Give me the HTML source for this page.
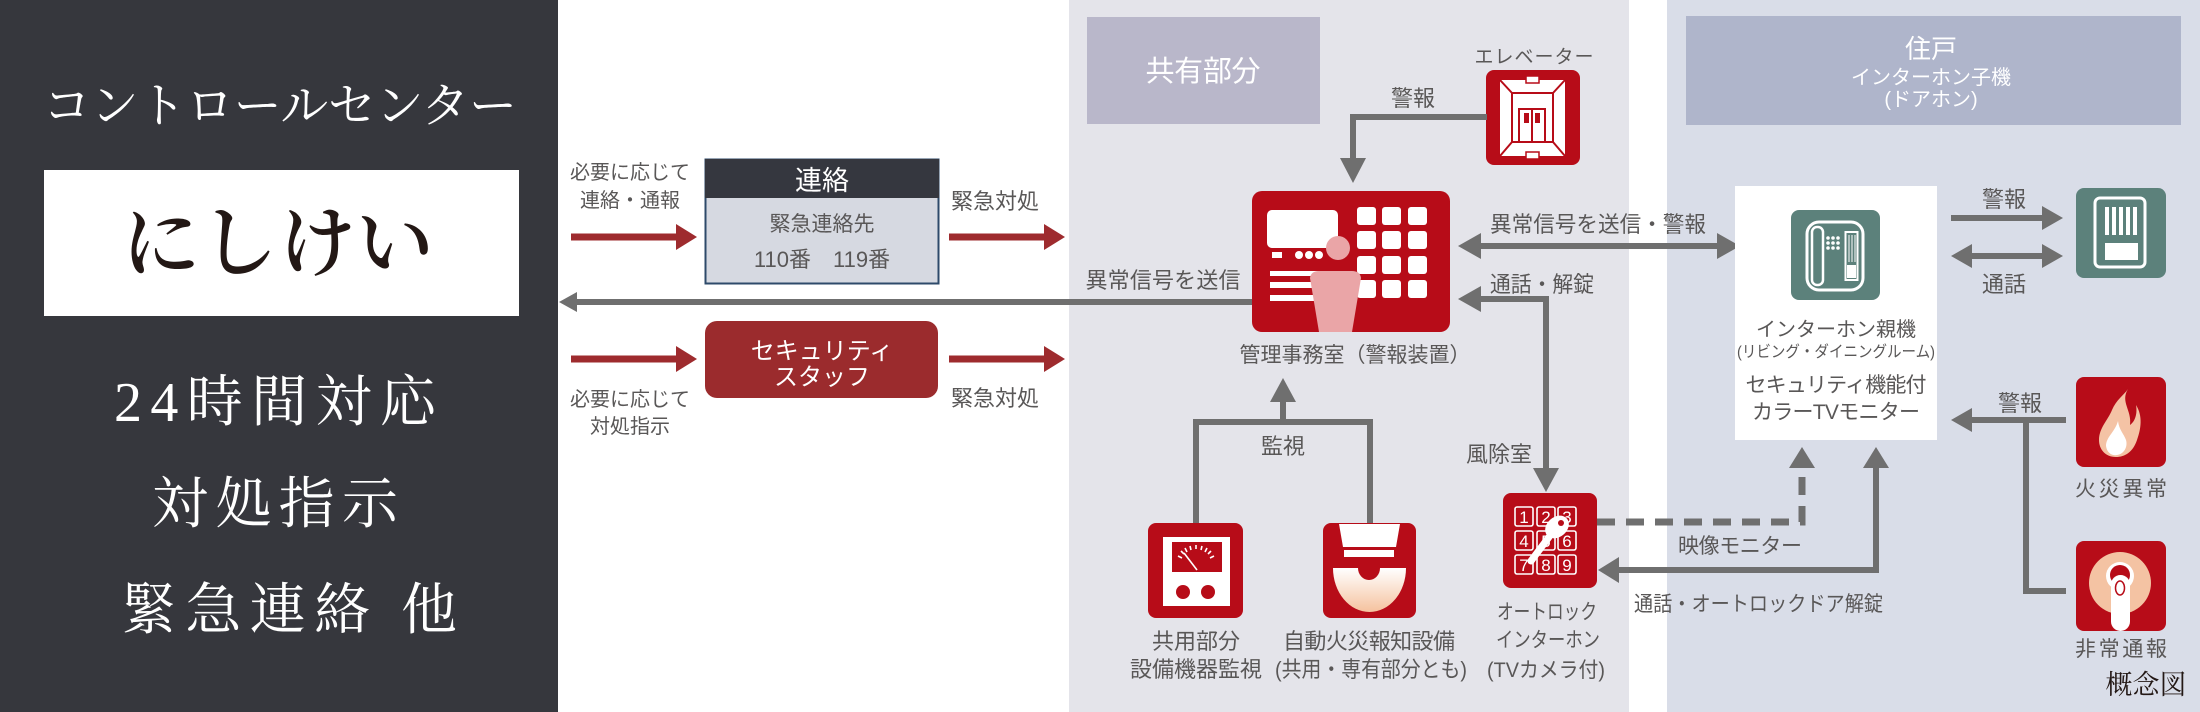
<!DOCTYPE html>
<html><head><meta charset="utf-8">
<style>
html,body{margin:0;padding:0;background:#fff;}
svg{display:block}
.s{font-family:"Liberation Sans","Noto Sans CJK JP",sans-serif;fill:#595757;}
.m{font-family:"Liberation Serif","Noto Serif CJK SC",serif;}
.w{fill:#fff;}
</style></head><body>
<svg width="2200" height="712" viewBox="0 0 2200 712" xmlns="http://www.w3.org/2000/svg">
<defs>
<linearGradient id="bowl" x1="0" y1="0" x2="0" y2="1">
<stop offset="0" stop-color="#ffffff"/><stop offset="1" stop-color="#f5c29e"/>
</linearGradient>
</defs>

<!-- Left dark panel -->
<rect x="0" y="0" width="558" height="712" fill="#36373d"/>
<text class="m w" x="280" y="122" font-size="48" text-anchor="middle" textLength="474" lengthAdjust="spacing">コントロールセンター</text>
<rect x="44" y="170" width="475" height="146" fill="#fff"/>
<text class="m" x="278" y="270" font-size="78" fill="#231815" text-anchor="middle" textLength="312" lengthAdjust="spacing" font-weight="600">にしけい</text>
<text class="m w" x="275" y="421" font-size="56" text-anchor="middle" textLength="322" lengthAdjust="spacing">24時間対応</text>
<text class="m w" x="275" y="523" font-size="56" text-anchor="middle" textLength="246" lengthAdjust="spacing">対処指示</text>
<text class="m w" x="289" y="629" font-size="56" text-anchor="middle" textLength="336" lengthAdjust="spacing">緊急連絡 他</text>

<!-- Middle gray panel -->
<rect x="1069" y="0" width="560" height="712" fill="#e4e4ea"/>
<!-- Right panel -->
<rect x="1667" y="0" width="533" height="712" fill="#d9dde8"/>

<!-- Left white zone labels -->
<text class="s" x="630" y="179" font-size="20" text-anchor="middle">必要に応じて</text>
<text class="s" x="630" y="207" font-size="20" text-anchor="middle" textLength="100" lengthAdjust="spacingAndGlyphs">連絡・通報</text>
<line x1="571" y1="237" x2="678" y2="237" stroke="#9e2b2e" stroke-width="7"/>
<polygon points="676,224 697,237 676,250" fill="#9e2b2e"/>

<rect x="705.5" y="159.5" width="233" height="124" fill="#d6d9e1" stroke="#2e4a6a" stroke-width="2"/>
<rect x="705" y="159" width="234" height="39" fill="#35373f"/>
<text class="s" x="822" y="190" font-size="27" text-anchor="middle" style="fill:#fff">連絡</text>
<text class="s" x="822" y="231" font-size="21" text-anchor="middle">緊急連絡先</text>
<text class="s" x="822" y="267" font-size="22" text-anchor="middle">110番　119番</text>

<text class="s" x="995" y="209" font-size="22" text-anchor="middle">緊急対処</text>
<line x1="949" y1="237" x2="1046" y2="237" stroke="#9e2b2e" stroke-width="7"/>
<polygon points="1044,224 1065,237 1044,250" fill="#9e2b2e"/>

<!-- gray arrow to control center -->
<line x1="574" y1="302" x2="1254" y2="302" stroke="#6f6f6f" stroke-width="6"/>
<polygon points="559,302 577,292 577,312" fill="#6f6f6f"/>

<rect x="705" y="321" width="233" height="77" rx="12" fill="#9b2b2d"/>
<text class="s" x="822" y="359" font-size="24" text-anchor="middle" style="fill:#fff">セキュリティ</text>
<text class="s" x="822" y="385" font-size="24" text-anchor="middle" style="fill:#fff">スタッフ</text>
<line x1="571" y1="359" x2="678" y2="359" stroke="#9e2b2e" stroke-width="7"/>
<polygon points="676,346 697,359 676,372" fill="#9e2b2e"/>
<line x1="949" y1="359" x2="1046" y2="359" stroke="#9e2b2e" stroke-width="7"/>
<polygon points="1044,346 1065,359 1044,372" fill="#9e2b2e"/>
<text class="s" x="630" y="406" font-size="20" text-anchor="middle">必要に応じて</text>
<text class="s" x="630" y="433" font-size="20" text-anchor="middle">対処指示</text>
<text class="s" x="995" y="406" font-size="22" text-anchor="middle">緊急対処</text>

<!-- 共有部分 -->
<rect x="1087" y="17" width="233" height="107" fill="#b9b7ca"/>
<text class="s" x="1203" y="81" font-size="29" text-anchor="middle" textLength="115" lengthAdjust="spacing" style="fill:#fff">共有部分</text>

<text class="s" x="1534" y="63" font-size="19" text-anchor="middle" textLength="119" lengthAdjust="spacing">エレベーター</text>
<!-- Elevator icon -->
<rect x="1486" y="70" width="94" height="95" rx="8" fill="#b70c18"/>
<rect x="1500" y="80" width="65" height="76" fill="#fff"/>
<g stroke="#b70c18" stroke-width="2" fill="none">
<line x1="1500" y1="80" x2="1512" y2="93"/>
<line x1="1565" y1="80" x2="1553" y2="93"/>
<line x1="1500" y1="156" x2="1512" y2="142"/>
<line x1="1565" y1="156" x2="1553" y2="142"/>
<rect x="1512" y="93" width="41" height="49"/>
<rect x="1519" y="109" width="26" height="33"/>
<line x1="1532" y1="109" x2="1532" y2="142"/>
</g>
<rect x="1524" y="113" width="5" height="10" fill="#b70c18"/>
<rect x="1535" y="113" width="5" height="10" fill="#b70c18"/>
<rect x="1526" y="76" width="13" height="7" fill="#fff" stroke="#b70c18" stroke-width="1.5"/>
<rect x="1526" y="152" width="13" height="7" fill="#fff" stroke="#b70c18" stroke-width="1.5"/>

<text class="s" x="1413" y="106" font-size="22" text-anchor="middle">警報</text>
<polyline points="1487,117 1353,117 1353,162" fill="none" stroke="#6f6f6f" stroke-width="6"/>
<polygon points="1340,158 1366,158 1353,183" fill="#6f6f6f"/>

<!-- Office icon -->
<rect x="1252" y="191" width="198" height="141" rx="10" fill="#b70c18"/>
<rect x="1267" y="210" width="71" height="38" rx="5" fill="#fff"/>
<rect x="1272" y="252" width="10" height="6" fill="#fff"/>
<circle cx="1299" cy="255" r="4" fill="#fff"/>
<circle cx="1309" cy="255" r="4" fill="#fff"/>
<circle cx="1319" cy="255" r="4" fill="#fff"/>
<rect x="1270" y="271" width="52" height="5" fill="#fff"/>
<rect x="1270" y="282" width="52" height="6" fill="#fff"/>
<rect x="1270" y="295" width="52" height="6" fill="#fff"/>
<g fill="#fff">
<rect x="1357" y="207" width="19" height="18" rx="3"/><rect x="1382" y="207" width="19" height="18" rx="3"/><rect x="1408" y="207" width="19" height="18" rx="3"/>
<rect x="1357" y="231" width="19" height="18" rx="3"/><rect x="1382" y="231" width="19" height="18" rx="3"/><rect x="1408" y="231" width="19" height="18" rx="3"/>
<rect x="1357" y="256" width="19" height="18" rx="3"/><rect x="1382" y="256" width="19" height="18" rx="3"/><rect x="1408" y="256" width="19" height="18" rx="3"/>
<rect x="1357" y="280" width="19" height="18" rx="3"/><rect x="1382" y="280" width="19" height="18" rx="3"/><rect x="1408" y="280" width="19" height="18" rx="3"/>
</g>
<circle cx="1338" cy="248" r="12" fill="#eaa5a7"/>
<path d="M1310,278 Q1311,271 1319,271 L1352,271 Q1360,271 1361,278 L1352,332 L1319,332 Z" fill="#eaa5a7"/>
<text class="s" x="1355" y="362" font-size="21" text-anchor="middle" textLength="231" lengthAdjust="spacing">管理事務室（警報装置）</text>

<!-- arrows right of office -->
<text class="s" x="1490" y="232" font-size="22" textLength="216" lengthAdjust="spacingAndGlyphs">異常信号を送信・警報</text>
<line x1="1478" y1="246" x2="1720" y2="246" stroke="#6f6f6f" stroke-width="6"/>
<polygon points="1458,246 1481,233 1481,259" fill="#6f6f6f"/>
<polygon points="1740,246 1717,233 1717,259" fill="#6f6f6f"/>
<text class="s" x="1490" y="292" font-size="22" textLength="104" lengthAdjust="spacingAndGlyphs">通話・解錠</text>
<polyline points="1546,470 1546,299 1478,299" fill="none" stroke="#6f6f6f" stroke-width="6"/>
<polygon points="1458,299 1481,286 1481,312" fill="#6f6f6f"/>
<polygon points="1533,468 1559,468 1546,492" fill="#6f6f6f"/>
<text class="s" x="1163" y="288" font-size="22" text-anchor="middle" textLength="155" lengthAdjust="spacing">異常信号を送信</text>

<!-- monitoring -->
<polyline points="1196,523 1196,422 1370,422 1370,523" fill="none" stroke="#6f6f6f" stroke-width="6"/>
<line x1="1283" y1="422" x2="1283" y2="400" stroke="#6f6f6f" stroke-width="6"/>
<polygon points="1270,402 1296,402 1283,378" fill="#6f6f6f"/>
<text class="s" x="1283" y="454" font-size="22" text-anchor="middle">監視</text>
<text class="s" x="1499" y="462" font-size="22" text-anchor="middle">風除室</text>

<!-- meter icon -->
<rect x="1148" y="523" width="95" height="95" rx="8" fill="#b70c18"/>
<rect x="1163" y="537" width="67" height="69" fill="#fff"/>
<rect x="1172" y="542" width="50" height="30" fill="#b70c18"/>
<g stroke="#fff" stroke-width="1.6">
<line x1="1178" y1="556" x2="1182" y2="558"/>
<line x1="1181" y1="551" x2="1184" y2="554"/>
<line x1="1185" y1="548" x2="1187" y2="552"/>
<line x1="1190" y1="546" x2="1191" y2="550"/>
<line x1="1196" y1="545" x2="1196" y2="549"/>
<line x1="1202" y1="546" x2="1201" y2="550"/>
<line x1="1207" y1="548" x2="1205" y2="552"/>
<line x1="1211" y1="551" x2="1208" y2="554"/>
<line x1="1214" y1="556" x2="1210" y2="558"/>
<line x1="1197" y1="570" x2="1184" y2="553"/>
</g>
<circle cx="1183" cy="592" r="7" fill="#b70c18"/>
<circle cx="1208" cy="592" r="7" fill="#b70c18"/>
<text class="s" x="1196" y="649" font-size="22" text-anchor="middle">共用部分</text>
<text class="s" x="1196" y="677" font-size="22" text-anchor="middle" textLength="132" lengthAdjust="spacingAndGlyphs">設備機器監視</text>

<!-- fire detector icon -->
<rect x="1323" y="523" width="93" height="95" rx="8" fill="#b70c18"/>
<path d="M1339,524 L1400,524 L1396,547 L1343,547 Z" fill="#fff"/>
<rect x="1344" y="550" width="50" height="7" fill="#fff"/>
<path d="M1333,568 L1406,568 A36.5,44 0 0 1 1333,568 Z" fill="url(#bowl)"/>
<path d="M1358,568 A11,12 0 0 0 1380,568 Z" fill="#b70c18"/>
<text class="s" x="1369" y="649" font-size="22" text-anchor="middle" textLength="172" lengthAdjust="spacing">自動火災報知設備</text>
<text class="s" x="1371" y="677" font-size="22" text-anchor="middle" textLength="192" lengthAdjust="spacingAndGlyphs">(共用・専有部分とも)</text>

<!-- autolock icon -->
<rect x="1503" y="493" width="94" height="95" rx="8" fill="#b70c18"/>
<g fill="none" stroke="#fff" stroke-width="1.6">
<rect x="1515" y="507" width="18" height="19" rx="2"/><rect x="1537" y="507" width="18" height="19" rx="2"/><rect x="1558" y="507" width="18" height="19" rx="2"/>
<rect x="1515" y="531" width="18" height="19" rx="2"/><rect x="1537" y="531" width="18" height="19" rx="2"/><rect x="1558" y="531" width="18" height="19" rx="2"/>
<rect x="1515" y="555" width="18" height="19" rx="2"/><rect x="1537" y="555" width="18" height="19" rx="2"/><rect x="1558" y="555" width="18" height="19" rx="2"/>
</g>
<g font-family="Liberation Sans, sans-serif" font-size="17" fill="#fff" text-anchor="middle">
<text x="1524" y="523">1</text><text x="1546" y="523">2</text><text x="1567" y="523">3</text>
<text x="1524" y="547">4</text><text x="1546" y="547">5</text><text x="1567" y="547">6</text>
<text x="1524" y="571">7</text><text x="1546" y="571">8</text><text x="1567" y="571">9</text>
</g>
<ellipse cx="1557" cy="527" rx="13" ry="10" transform="rotate(-40 1557 527)" fill="#fff"/>
<circle cx="1561" cy="523" r="3" fill="#b70c18"/>
<line x1="1549" y1="537" x2="1531" y2="561" stroke="#fff" stroke-width="7" stroke-linecap="round"/>
<text class="s" x="1547" y="619" font-size="21" text-anchor="middle" textLength="100" lengthAdjust="spacingAndGlyphs">オートロック</text>
<text class="s" x="1548" y="647" font-size="21" text-anchor="middle" textLength="104" lengthAdjust="spacingAndGlyphs">インターホン</text>
<text class="s" x="1546" y="677" font-size="21" text-anchor="middle" textLength="118" lengthAdjust="spacingAndGlyphs">(TVカメラ付)</text>

<!-- autolock to monitor arrows -->
<polyline points="1597,522 1802,522 1802,470" fill="none" stroke="#6f6f6f" stroke-width="7" stroke-dasharray="18 11"/>
<polygon points="1789,468 1815,468 1802,447" fill="#6f6f6f"/>
<polyline points="1616,570 1876,570 1876,466" fill="none" stroke="#6f6f6f" stroke-width="6"/>
<polygon points="1598,570 1619,557 1619,583" fill="#6f6f6f"/>
<polygon points="1863,468 1889,468 1876,447" fill="#6f6f6f"/>
<text class="s" x="1740" y="553" font-size="21" text-anchor="middle" textLength="124" lengthAdjust="spacing">映像モニター</text>
<text class="s" x="1634" y="611" font-size="21" textLength="249" lengthAdjust="spacingAndGlyphs">通話・オートロックドア解錠</text>

<!-- 住戸 header -->
<rect x="1686" y="16" width="495" height="109" fill="#afb5cb"/>
<text class="s" x="1931" y="58" font-size="26" text-anchor="middle" style="fill:#fff">住戸</text>
<text class="s" x="1931" y="84" font-size="20" text-anchor="middle" textLength="160" lengthAdjust="spacing" style="fill:#fff">インターホン子機</text>
<text class="s" x="1931" y="106" font-size="20" text-anchor="middle" style="fill:#fff">(ドアホン)</text>

<!-- monitor white box -->
<rect x="1735" y="186" width="202" height="254" fill="#fff"/>
<rect x="1791" y="210" width="89" height="90" rx="8" fill="#5c817b"/>
<rect x="1807" y="222" width="56" height="68" rx="12" fill="none" stroke="#fff" stroke-width="3"/>
<rect x="1812" y="227" width="11" height="58" rx="5" fill="none" stroke="#fff" stroke-width="2.5"/>
<g fill="#fff">
<circle cx="1828" cy="238" r="1.8"/><circle cx="1833" cy="238" r="1.8"/><circle cx="1838" cy="238" r="1.8"/>
<circle cx="1828" cy="243" r="1.8"/><circle cx="1833" cy="243" r="1.8"/><circle cx="1838" cy="243" r="1.8"/>
<circle cx="1828" cy="248" r="1.8"/><circle cx="1833" cy="248" r="1.8"/><circle cx="1838" cy="248" r="1.8"/>
<rect x="1847" y="265" width="9" height="13"/>
</g>
<rect x="1845.5" y="232" width="12" height="48" fill="none" stroke="#fff" stroke-width="2"/>
<g stroke="#fff" stroke-width="1"><line x1="1849" y1="235" x2="1849" y2="262"/><line x1="1852" y1="235" x2="1852" y2="262"/><line x1="1855" y1="235" x2="1855" y2="262"/></g>
<text class="s" x="1836" y="336" font-size="20" text-anchor="middle" textLength="160" lengthAdjust="spacing">インターホン親機</text>
<text class="s" x="1836" y="357" font-size="16" text-anchor="middle" textLength="198" lengthAdjust="spacingAndGlyphs">(リビング・ダイニングルーム)</text>
<text class="s" x="1836" y="392" font-size="21" text-anchor="middle" textLength="181" lengthAdjust="spacing">セキュリティ機能付</text>
<text class="s" x="1836" y="419" font-size="21" text-anchor="middle" textLength="168" lengthAdjust="spacing">カラーTVモニター</text>

<!-- door phone arrows -->
<text class="s" x="2004" y="207" font-size="22" text-anchor="middle">警報</text>
<line x1="1951" y1="218" x2="2045" y2="218" stroke="#6f6f6f" stroke-width="6"/>
<polygon points="2063,218 2042,206 2042,230" fill="#6f6f6f"/>
<line x1="1970" y1="256" x2="2045" y2="256" stroke="#6f6f6f" stroke-width="6"/>
<polygon points="1951,256 1972,244 1972,268" fill="#6f6f6f"/>
<polygon points="2063,256 2042,244 2042,268" fill="#6f6f6f"/>
<text class="s" x="2004" y="292" font-size="22" text-anchor="middle">通話</text>

<!-- door phone icon -->
<rect x="2076" y="188" width="90" height="90" rx="8" fill="#5c817b"/>
<rect x="2095" y="198" width="50" height="69" rx="5" fill="none" stroke="#fff" stroke-width="3"/>
<g fill="#fff">
<rect x="2105" y="207" width="4" height="28"/><rect x="2112" y="207" width="4" height="28"/><rect x="2119" y="207" width="4" height="28"/><rect x="2126" y="207" width="4" height="28"/><rect x="2133" y="207" width="4" height="28"/>
<rect x="2105" y="243" width="33" height="17"/>
</g>

<!-- fire arrow -->
<text class="s" x="2020" y="411" font-size="22" text-anchor="middle">警報</text>
<polyline points="2066,420 1970,420" fill="none" stroke="#6f6f6f" stroke-width="6"/>
<polygon points="1951,420 1972,408 1972,432" fill="#6f6f6f"/>
<polyline points="2026,420 2026,591 2066,591" fill="none" stroke="#6f6f6f" stroke-width="6"/>

<!-- fire icon -->
<rect x="2076" y="377" width="90" height="90" rx="8" fill="#b70c18"/>
<path d="M2128,389 C2120,402 2132,410 2130,425 C2137,420 2137,410 2136,405 C2143,416 2141,429 2137,440 C2133,452 2125,457 2116,457 C2105,457 2099,449 2099,440 C2099,428 2108,420 2112,410 C2116,400 2124,395 2128,389 Z" fill="#f4c3a5"/>
<path d="M2118,421 C2115,432 2106,437 2106,446 C2107,453 2112,456 2117,455 C2124,454 2128,447 2126,440 C2124,434 2119,430 2118,421 Z" fill="#fff"/>
<text class="s" x="2121" y="496" font-size="21" text-anchor="middle" textLength="92" lengthAdjust="spacing">火災異常</text>

<!-- emergency call icon -->
<rect x="2076" y="541" width="90" height="90" rx="8" fill="#b70c18"/>
<circle cx="2120" cy="583" r="31" fill="#f4c3a3"/>
<circle cx="2120" cy="576" r="14" fill="#fff"/>
<circle cx="2120" cy="575" r="10" fill="#b70c18"/>
<rect x="2111" y="575" width="19" height="56" rx="9.5" fill="#fff"/>
<ellipse cx="2120" cy="588" rx="4.5" ry="7" fill="none" stroke="#b70c18" stroke-width="1.5"/>
<text class="s" x="2121" y="656" font-size="21" text-anchor="middle" textLength="92" lengthAdjust="spacing">非常通報</text>

<text class="m" x="2146" y="694" font-size="27" fill="#231815" text-anchor="middle">概念図</text>
</svg>
</body></html>
